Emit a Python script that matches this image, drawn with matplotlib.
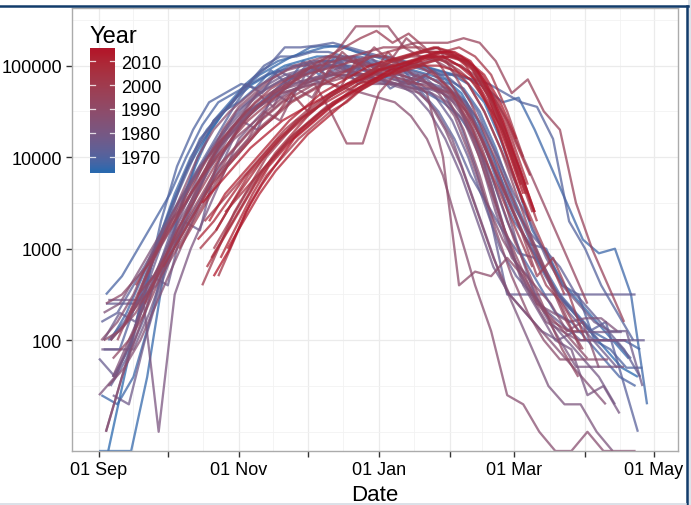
import numpy as np
import matplotlib
matplotlib.use("Agg")
import matplotlib.pyplot as plt
import matplotlib.dates as mdates
from matplotlib.lines import Line2D
from matplotlib.patches import Rectangle
from datetime import date, timedelta

plt.rcParams['font.family'] = ['Liberation Sans', 'DejaVu Sans']

Z = None  # a week with zero reported cases (drawn on the lower panel edge)

# ---------------- data ----------------
season_years = [1964, 1965, 1966, 1967, 1968, 1969, 1970, 1971, 1972, 1973,
                1974, 1975, 1976, 1977, 1978, 1979, 1980, 1981, 1982, 1983,
                1984, 1985, 1986, 1987, 1988, 1989, 1990, 1991, 1992, 1993,
                1994, 1995, 1996, 1997, 1998, 1999, 2000, 2001, 2002, 2003,
                2004, 2005, 2006, 2007, 2008, 2009, 2010, 2011, 2012, 2013,
                2014]

# day (after 1 Sep) of the first weekly report of each season
first_day = [4, 0, 1, 5, 3, 6, 2, 4, 1, 5,
             3, 0, 2, 6, 4, 1, 3, 5, 0, 2,
             6, 4, 1, 3, 5, 3, 2, 6, 14, 17,
             8, 12, 20, 16, 28, 35, 45, 50, 46, 52,
             44, 49, 55, 47, 51, 43, 53, 48, 56, 45,
             50]

# weekly reported cases, log10
log10_cases = [
    [Z, 1.6, 2.4, 3.0, 3.5, 3.9, 4.2, 4.45, 4.65, 4.8, 4.9, 5.0, 5.05, 5.1, 5.1, 5.05, 5.0, 5.0, 4.95, 4.95, 4.9, 4.85, 4.7, 4.4, 4.0, 3.5, 3.1, 2.8, 2.5, 2.3, 2.1, 1.9, 1.7, 1.6],
    [Z, Z, Z, 1.6, 2.7, 3.4, 3.9, 4.3, 4.55, 4.75, 4.9, 5.0, 5.1, 5.15, 5.2, 5.22, 5.15, 5.1, 5.1, 5.05, 5.0, 4.95, 4.9, 4.8, 4.6, 4.2, 3.7, 3.2, 2.9, 2.6, 2.4, 2.2, 2.0, 1.8],
    [1.4, 1.3, 1.6, 2.2, 2.9, 3.5, 4.0, 4.4, 4.6, 4.8, 4.95, 5.05, 5.1, 5.2, 5.22, 5.2, 5.15, 5.1, 5.05, 5.0, 5.0, 4.95, 4.9, 4.85, 4.75, 4.6, 4.65, 4.3, 3.9, 3.5, 3.1, 2.95, 3.0, 2.5, 1.3],
    [2.0, 2.3, 2.7, 3.1, 3.6, 4.0, 4.3, 4.5, 4.6, 4.75, 4.95, 4.8, 5.05, 4.9, 5.1, 4.95, 5.05, 4.85, 5.0, 4.8, 4.95, 4.85, 4.75, 4.5, 4.1, 3.6, 3.2, 2.8, 2.5, 2.3, 2.1, 2.0, 2.0, 1.9],
    [2.5, 2.7, 3.0, 3.3, 3.6, 4.0, 4.35, 4.6, 4.7, 4.8, 4.9, 4.95, 5.0, 5.05, 5.05, 5.0, 4.95, 4.9, 4.85, 4.8, 4.7, 4.6, 4.45, 4.2, 3.8, 3.3, 2.9, 2.6, 2.3, 2.2, 2.0, 1.8, 1.6, 1.5],
    [1.6, 1.9, 2.5, 3.3, 3.9, 4.3, 4.6, 4.7, 4.8, 4.75, 4.9, 5.0, 5.0, 5.05, 5.05, 5.1, 5.05, 5.0, 4.95, 4.9, 4.85, 4.8, 4.6, 4.2, 3.7, 3.3, 3.05, 3.0, 2.6, 2.5, 2.0, 1.9, 1.7, 1.7],
    [1.9, 1.9, 2.4, 2.9, 3.3, 3.8, 4.2, 4.4, 4.6, 4.8, 5.0, 5.1, 5.1, 5.15, 5.15, 5.1, 5.1, 5.05, 5.0, 5.0, 4.95, 4.9, 4.9, 4.85, 4.8, 4.7, 4.6, 4.55, 4.2, 3.3, 3.0, 2.6, 2.3, 2.0],
    [2.0, 2.2, 2.5, 3.0, 3.4, 3.7, 4.0, 4.3, 4.6, 4.85, 5.0, 5.2, 5.2, 5.22, 5.25, 5.2, 5.15, 5.1, 5.05, 5.0, 4.95, 4.9, 4.75, 4.5, 4.1, 3.6, 3.2, 2.8, 2.5, 2.3, 2.1, 2.2, 1.6, 1.0],
    [2.2, 2.3, 2.6, 2.9, 3.3, 3.7, 4.1, 4.4, 4.55, 4.8, 4.7, 4.95, 4.85, 5.05, 4.9, 5.0, 4.8, 4.95, 4.75, 4.85, 4.7, 4.5, 4.2, 3.8, 3.5, 3.2, 2.95, 2.9, 2.6, 2.4, 2.2, 2.0, 2.0, 1.8],
    [1.5, 1.8, 2.2, 2.8, 3.3, 3.7, 4.0, 4.2, 4.4, 4.55, 4.7, 4.85, 4.9, 4.95, 5.0, 5.0, 4.95, 4.9, 4.9, 4.85, 4.8, 4.75, 4.6, 4.3, 3.9, 3.5, 3.2, 3.0, 2.8, 2.5, 2.3, 2.1, 1.9, 1.6],
    [2.4, 2.4, 2.4, 2.9, 3.3, 3.5, 3.8, 4.1, 4.3, 4.5, 4.65, 4.8, 4.9, 5.0, 5.05, 5.1, 5.05, 5.0, 4.95, 4.9, 4.85, 4.7, 4.4, 3.9, 3.3, 2.5, 2.5, 2.5, 2.5, 2.5, 2.5, 2.5, 2.5, 2.5],
    [1.8, 1.6, 2.0, 2.6, 3.1, 3.5, 3.8, 4.1, 4.35, 4.55, 4.7, 4.8, 4.9, 4.95, 5.0, 5.0, 4.95, 4.95, 4.9, 4.85, 4.8, 4.65, 4.4, 4.0, 3.5, 3.0, 2.7, 2.5, 2.3, 2.15, 2.0, 2.0, 2.0, 2.0, 2.0],
    [2.0, 2.3, 2.2, 2.7, 2.6, 3.3, 3.2, 3.9, 4.2, 4.45, 4.6, 4.75, 4.85, 4.95, 5.0, 5.05, 5.05, 5.0, 5.0, 4.95, 4.9, 4.8, 4.65, 4.4, 4.0, 3.6, 3.2, 2.9, 2.6, 2.3, 2.1, 1.9, 1.7],
    [1.4, 1.3, 2.0, 2.6, 3.1, 3.4, 3.7, 4.0, 4.4, 4.3, 4.7, 4.6, 4.9, 4.8, 5.05, 4.9, 5.1, 4.95, 5.0, 4.85, 4.95, 4.75, 4.6, 4.35, 4.0, 3.6, 3.3, 2.9, 2.6, 2.4, 2.2, 2.1, 2.1, 1.5],
    [2.44, 2.44, 2.44, 2.6, 3.0, 3.4, 3.8, 4.2, 4.5, 4.65, 4.8, 4.9, 4.95, 5.0, 5.0, 4.95, 4.9, 4.85, 4.8, 4.7, 4.5, 4.2, 3.8, 3.3, 2.8, 2.5, 2.3, 2.1, 2.0, 2.09, 2.09, 2.09, 2.09],
    [1.9, 1.9, 1.9, 2.3, 2.8, 3.2, 3.6, 4.0, 4.3, 4.5, 4.6, 4.7, 4.8, 4.85, 4.9, 4.95, 4.9, 4.85, 4.8, 4.8, 4.75, 4.75, 4.7, 4.5, 4.1, 3.6, 3.0, 2.5, 2.2, 2.0, 1.8, 1.6, 1.3],
    [1.0, 1.6, 2.2, 2.7, 3.1, 3.5, 3.9, 4.2, 4.4, 4.6, 4.75, 4.85, 4.9, 4.95, 5.0, 4.95, 4.9, 4.85, 4.8, 4.75, 4.75, 4.7, 4.55, 4.2, 3.7, 3.1, 2.6, 2.3, 2.0, 1.9, 1.4, 1.5, 1.2],
    [2.0, 2.2, 2.5, 1.0, 2.5, 3.0, 3.4, 3.8, 4.2, 4.4, 4.6, 4.7, 4.8, 4.85, 4.9, 4.9, 4.85, 4.8, 4.8, 4.75, 4.7, 4.6, 4.4, 4.0, 3.4, 2.9, 2.7, 2.3, 2.0, 1.71, 1.71, 1.71, 1.71],
    [1.4, 1.6, 2.0, 2.5, 2.9, 3.3, 3.6, 3.9, 4.2, 4.4, 4.55, 4.7, 4.8, 4.85, 4.9, 4.9, 4.85, 4.8, 4.8, 4.75, 4.7, 4.5, 4.2, 3.7, 3.2, 2.7, 2.3, 1.9, 1.5, 1.3, 1.3, 1.0, Z],
    [2.3, 2.4, 2.7, 3.0, 3.3, 3.6, 3.9, 4.1, 4.3, 4.5, 4.6, 4.7, 4.75, 4.8, 4.85, 4.9, 4.9, 4.85, 4.85, 4.8, 4.8, 4.75, 4.6, 4.3, 3.8, 3.2, 2.7, 2.4, 2.3, 2.2, 2.24, 2.24, 2.1],
    [1.6, 2.0, 2.4, 2.8, 3.2, 3.5, 3.9, 4.2, 4.45, 4.7, 4.55, 4.9, 4.8, 5.05, 4.95, 5.1, 4.9, 5.0, 4.8, 4.9, 4.75, 4.65, 4.4, 4.0, 3.4, 2.9, 2.5, 2.2, 2.1, 2.0, 2.0, 2.0, 2.0],
    [1.5, 1.7, 2.0, 2.4, 2.8, 3.2, 3.6, 4.0, 4.3, 4.5, 4.65, 4.75, 4.8, 4.85, 4.9, 4.95, 4.9, 4.85, 4.8, 4.75, 4.6, 4.3, 3.9, 3.4, 2.9, 2.5, 2.3, 2.1, 1.9, 1.7, 1.5, 1.3],
    [2.0, 2.2, 2.5, 2.9, 3.2, 3.6, 4.0, 4.3, 4.5, 4.65, 4.8, 4.9, 5.0, 5.05, 5.1, 5.1, 5.05, 5.0, 5.0, 4.95, 4.85, 4.7, 4.45, 4.0, 3.5, 3.1, 2.8, 2.6, 2.4, 2.1, 2.2, 1.7],
    [1.0, 1.6, 2.1, 2.6, 3.0, 3.4, 3.8, 4.1, 4.3, 4.5, 4.6, 4.7, 4.75, 4.8, 4.8, 4.75, 4.7, 4.65, 4.6, 4.45, 4.2, 3.8, 3.2, 2.6, 2.1, 1.4, 1.3, 1.0, Z, Z, 1.0, Z, Z, Z],
    [2.0, 2.2, 2.5, 2.8, 3.1, 3.5, 3.9, 4.3, 4.55, 4.7, 4.85, 4.95, 5.0, 5.05, 5.1, 5.05, 5.0, 4.95, 4.9, 4.85, 4.8, 4.65, 4.3, 3.8, 3.2, 2.7, 2.3, 2.0, 1.79, 1.79, 1.79, 1.79],
    [2.4, 2.5, 2.7, 2.9, 3.2, 3.5, 3.8, 4.0, 4.2, 4.35, 4.5, 4.65, 4.75, 4.85, 4.9, 4.95, 5.0, 5.0, 4.95, 4.85, 4.7, 4.0, 2.6, 2.75, 2.7, 2.9, 2.7, 2.4, 2.2, 2.0, 1.8],
    [2.0, 2.1, 2.3, 2.6, 2.9, 3.2, 3.5, 3.8, 4.0, 4.2, 4.5, 4.4, 4.75, 4.65, 4.95, 4.85, 5.05, 4.9, 5.0, 4.8, 4.9, 4.8, 4.6, 4.2, 3.7, 3.2, 2.8, 2.4, 2.2, 2.1, 2.1],
    [1.8, 2.0, 2.3, 2.7, 3.0, 3.3, 3.6, 3.9, 4.1, 4.3, 4.45, 4.6, 4.7, 4.8, 4.85, 4.9, 4.9, 4.9, 4.85, 4.8, 4.75, 4.7, 4.5, 4.1, 3.6, 3.1, 2.7, 2.3, 1.9, 1.6],
    [2.3, 2.5, 2.8, 3.1, 3.4, 3.7, 4.0, 4.2, 4.4, 4.55, 4.7, 4.85, 5.0, 5.2, 5.43, 5.43, 5.43, 5.2, 5.1, 5.05, 4.95, 4.8, 4.5, 4.1, 3.6, 3.1, 2.7, 2.3, 1.9],
    [2.5, 2.7, 3.0, 3.3, 3.6, 3.9, 4.1, 4.3, 4.45, 4.6, 4.7, 4.8, 4.5, 4.15, 4.15, 4.7, 4.9, 5.0, 5.05, 5.1, 5.0, 4.9, 4.7, 4.4, 4.0, 3.6, 3.2, 2.8, 2.4],
    [2.0, 2.4, 2.8, 3.2, 3.5, 3.8, 4.1, 4.3, 4.5, 4.65, 4.75, 4.85, 5.0, 4.9, 5.15, 5.0, 5.2, 5.05, 5.3, 5.15, 5.2, 4.9, 4.6, 4.2, 3.8, 3.4, 3.0, 2.6, 2.2, 1.9],
    [2.2, 2.6, 3.0, 3.3, 3.6, 3.9, 4.2, 4.4, 4.6, 4.75, 4.85, 4.95, 5.0, 5.05, 5.1, 5.15, 5.2, 5.2, 5.25, 5.25, 5.25, 5.3, 5.25, 5.05, 4.7, 4.85, 4.5, 4.3, 3.5, 3.0, 2.6, 2.2],
    [2.4, 2.8, 3.2, 3.5, 3.8, 4.1, 4.35, 4.55, 4.7, 4.8, 4.9, 4.95, 5.0, 5.05, 5.1, 5.1, 5.05, 5.0, 4.9, 4.75, 4.5, 4.2, 3.8, 3.4, 3.0, 2.6, 2.4, 2.1],
    [2.6, 2.9, 3.2, 3.5, 3.75, 4.0, 4.2, 4.4, 4.55, 4.7, 4.85, 5.0, 5.1, 5.2, 5.3, 5.38, 5.25, 5.35, 5.2, 5.0, 4.7, 4.4, 4.0, 3.6, 3.2, 2.7, 2.9, 2.5, 2.0],
    [2.8, 3.1, 3.4, 3.7, 3.9, 4.1, 4.3, 4.45, 4.7, 4.5, 4.85, 4.75, 5.05, 4.9, 5.15, 4.95, 5.05, 4.9, 4.7, 4.4, 4.0, 3.6, 3.2, 2.8],
    [3.0, 3.3, 3.6, 3.9, 4.1, 4.3, 4.45, 4.6, 4.7, 4.8, 4.9, 5.0, 5.1, 5.15, 5.2, 5.2, 5.1, 5.0, 4.8, 4.5, 4.1, 3.7, 3.3, 2.9, 2.5],
    [2.6, 3.0, 3.4, 3.7, 4.0, 4.2, 4.4, 4.55, 4.7, 4.8, 4.9, 5.0, 5.05, 5.1, 5.1, 5.05, 4.95, 4.8, 4.5, 4.0, 3.5],
    [3.0, 3.3, 3.6, 3.85, 4.05, 4.25, 4.4, 4.55, 4.65, 4.8, 4.9, 5.0, 5.1, 5.15, 5.15, 5.1, 5.0, 4.7, 4.3, 3.8],
    [3.3, 3.5, 3.7, 3.9, 4.1, 4.3, 4.45, 4.6, 4.7, 4.8, 4.9, 4.95, 5.0, 5.05, 5.1, 5.05, 5.0, 4.85, 4.6, 4.2, 3.7],
    [2.7, 3.1, 3.5, 3.8, 4.0, 4.2, 4.35, 4.5, 4.6, 4.75, 4.85, 4.95, 5.0, 5.1, 5.15, 5.2, 5.1, 4.9, 4.5, 4.0],
    [3.0, 3.2, 3.5, 3.8, 4.0, 4.2, 4.4, 4.5, 4.65, 4.75, 4.85, 4.95, 5.0, 5.05, 5.1, 5.15, 5.1, 5.0, 4.7, 4.3, 3.8, 3.3],
    [2.9, 3.2, 3.5, 3.8, 4.05, 4.25, 4.45, 4.6, 4.75, 4.85, 4.95, 5.05, 5.1, 5.15, 5.2, 5.15, 5.05, 4.8, 4.4, 3.9, 3.4],
    [3.4, 3.6, 3.8, 4.0, 4.2, 4.35, 4.5, 4.6, 4.7, 4.8, 4.9, 4.95, 5.0, 5.05, 5.1, 5.05, 4.9, 4.6, 4.2, 3.8],
    [2.8, 3.1, 3.4, 3.7, 3.95, 4.15, 4.3, 4.45, 4.6, 4.7, 4.8, 4.9, 4.95, 5.0, 5.05, 5.1, 5.05, 4.9, 4.6, 4.2, 3.7],
    [3.2, 3.5, 3.75, 4.0, 4.2, 4.35, 4.5, 4.65, 4.75, 4.85, 4.95, 5.05, 5.1, 5.15, 5.15, 5.1, 4.95, 4.65, 4.2, 3.7],
    [3.1, 3.3, 3.55, 3.8, 4.0, 4.2, 4.35, 4.5, 4.6, 4.7, 4.8, 4.85, 4.9, 4.95, 5.0, 5.0, 4.95, 4.85, 4.6, 4.3, 3.9, 3.4],
    [2.9, 3.25, 3.6, 3.9, 4.1, 4.3, 4.45, 4.6, 4.7, 4.8, 4.9, 5.0, 5.05, 5.1, 5.15, 5.1, 4.95, 4.6, 4.1, 3.6],
    [3.3, 3.6, 3.8, 4.0, 4.2, 4.4, 4.55, 4.7, 4.8, 4.9, 5.0, 5.05, 5.1, 5.15, 5.2, 5.15, 5.0, 4.7, 4.3, 3.8, 3.3],
    [3.0, 3.3, 3.6, 3.85, 4.05, 4.25, 4.4, 4.55, 4.7, 4.8, 4.9, 5.0, 5.05, 5.1, 5.1, 5.05, 4.9, 4.6, 4.2],
    [3.5, 3.7, 3.9, 4.1, 4.25, 4.4, 4.5, 4.6, 4.7, 4.8, 4.85, 4.95, 5.0, 5.05, 5.1, 5.1, 5.0, 4.85, 4.55, 4.1, 3.6],
    [2.7, 3.0, 3.4, 3.7, 3.95, 4.2, 4.35, 4.5, 4.65, 4.75, 4.85, 4.95, 5.0, 5.1, 5.15, 5.15, 5.05, 4.8, 4.4, 3.9, 3.4],
]

legend_years = [1970, 1980, 1990, 2000, 2010]
y_breaks = [100, 1000, 10000, 100000]
y_labels = ["100", "1000", "10000", "100000"]

# ---------------- colour scale (ggplot-like Lab gradient) ----------------
LOW, HIGH = "#2A69AE", "#B2182B"
YEAR_MIN, YEAR_MAX = min(season_years), max(season_years)

def _hex(h):
    return np.array([int(h[i:i + 2], 16) / 255 for i in (1, 3, 5)])

_M = np.array([[0.4124, 0.3576, 0.1805], [0.2126, 0.7152, 0.0722], [0.0193, 0.1192, 0.9505]])
_W = np.array([0.95047, 1.0, 1.08883])
_d = 6 / 29

def to_lab(rgb):
    lin = np.where(rgb <= 0.04045, rgb / 12.92, ((rgb + 0.055) / 1.055) ** 2.4)
    xyz = _M @ lin / _W
    f = np.where(xyz > _d ** 3, np.cbrt(xyz), xyz / (3 * _d ** 2) + 4 / 29)
    return np.array([116 * f[1] - 16, 500 * (f[0] - f[1]), 200 * (f[1] - f[2])])

def from_lab(lab):
    fy = (lab[0] + 16) / 116
    f = np.array([fy + lab[1] / 500, fy, fy - lab[2] / 200])
    xyz = np.where(f > _d, f ** 3, 3 * _d ** 2 * (f - 4 / 29)) * _W
    lin = np.clip(np.linalg.solve(_M, xyz), 0, 1)
    rgb = np.where(lin <= 0.0031308, 12.92 * lin, 1.055 * lin ** (1 / 2.4) - 0.055)
    return np.clip(rgb, 0, 1)

LAB_LO, LAB_HI = to_lab(_hex(LOW)), to_lab(_hex(HIGH))

def year_colour(yr):
    t = np.clip((yr - YEAR_MIN) / (YEAR_MAX - YEAR_MIN), 0, 1)
    return from_lab(LAB_LO + t * (LAB_HI - LAB_LO))

# ---------------- figure ----------------
W, H = 691, 506
fig = plt.figure(figsize=(W / 100, H / 100), dpi=100)
fig.patch.set_facecolor("white")

PL, PR, PT, PB = 72, 678, 9, 452
ax = fig.add_axes([PL / W, 1 - PB / H, (PR - PL) / W, (PB - PT) / H])

base = date(2001, 9, 1)
ymin, ymax = 10 ** 0.79, 10 ** 5.63

for yr, d0, vals in zip(season_years, first_day, log10_cases):
    xs = [base + timedelta(days=d0 + 7 * i) for i in range(len(vals))]
    ys = [ymin if v is None else 10 ** v for v in vals]
    ax.plot(xs, ys, color=year_colour(yr), alpha=0.75, lw=1.65, zorder=3,
            solid_joinstyle="round", solid_capstyle="butt")

ax.set_yscale("log")
ax.set_ylim(ymin, ymax)
x0 = mdates.date2num(base)
ax.set_xlim(x0 - 11.8, x0 + 252.5)

# grid lines (ggplot theme_bw style)
month_starts = [date(2001, 8, 1)] + [date(2001 + (m > 12), (m - 1) % 12 + 1, 1) for m in range(9, 18)] + [date(2002, 6, 1)]
mnums = [mdates.date2num(d) for d in month_starts]
for m in mnums:
    ax.axvline(m, color="#EBEBEB", lw=0.9, zorder=1)
for a, b in zip(mnums[:-1], mnums[1:]):
    ax.axvline((a + b) / 2, color="#F2F2F2", lw=0.6, zorder=1)
for v in y_breaks:
    ax.axhline(v, color="#EBEBEB", lw=0.9, zorder=1)
for e in [1.0, 1.5, 2.5, 3.5, 4.5, 5.5]:
    ax.axhline(10 ** e, color="#F2F2F2", lw=0.6, zorder=1)

ax.xaxis.set_major_locator(mdates.MonthLocator(bymonth=[9, 11, 1, 3, 5]))
ax.xaxis.set_major_formatter(mdates.DateFormatter("%d %b"))
ax.xaxis.set_minor_locator(mdates.MonthLocator(bymonth=[10, 12, 2, 4]))
ax.set_yticks(y_breaks)
ax.set_yticklabels(y_labels)
ax.yaxis.set_minor_locator(matplotlib.ticker.NullLocator())

ax.tick_params(axis="both", which="both", length=4, width=1.0, color="#333333",
               labelsize=13, labelcolor="black", pad=3)
for s in ax.spines.values():
    s.set_color("#ABABAB")
    s.set_linewidth(1.0)
    s.set_zorder(4)

fig.text((PL + PR) / 2 / W, 1 - 496 / H, "Date", ha="center", va="center", fontsize=16)

# ---------------- colour bar legend ----------------
CB_L, CB_R, CB_T, CB_B = 90, 115, 49.3, 174.3
px_per_year = 2.385
yr_top = 2010 + (62.3 - CB_T) / px_per_year
yr_bot = 2010 - (CB_B - 62.3) / px_per_year
cax = fig.add_axes([CB_L / W, 1 - CB_B / H, (CB_R - CB_L) / W, (CB_B - CB_T) / H])
grad_years = np.linspace(yr_bot, yr_top, 200)
img = np.array([year_colour(g) for g in grad_years])[:, None, :]
cax.imshow(img, origin="lower", aspect="auto", extent=[0, 1, yr_bot, yr_top])
cax.set_xlim(0, 1)
cax.set_ylim(yr_bot, yr_top)
cax.axis("off")
for ly in legend_years:
    cax.plot([0, 0.2], [ly, ly], color="white", lw=0.9, alpha=0.8)
    cax.plot([0.8, 1], [ly, ly], color="white", lw=0.9, alpha=0.8)
    py = 62.3 + (2010 - ly) * px_per_year
    fig.text(121 / W, 1 - py / H, str(ly), ha="left", va="center_baseline", fontsize=13)
fig.text(89 / W, 1 - 43 / H, "Year", ha="left", va="baseline", fontsize=17)

# ---------------- screenshot frame ----------------
fig.add_artist(Line2D([0, 688 / W], [1 - 7 / H, 1 - 7 / H], color="#123C6B", lw=1.8))
fig.add_artist(Line2D([686.5 / W, 686.5 / W], [0, 1 - 7 / H], color="#123C6B", lw=1.8))
fig.add_artist(Rectangle((688 / W, 0), 3 / W, 1, color="#DDE3EA", lw=0))
fig.add_artist(Line2D([0, 686 / W], [0.8 / H, 0.8 / H], color="#D5DCE4", lw=1.2))

fig.savefig("out.png", dpi=100)
